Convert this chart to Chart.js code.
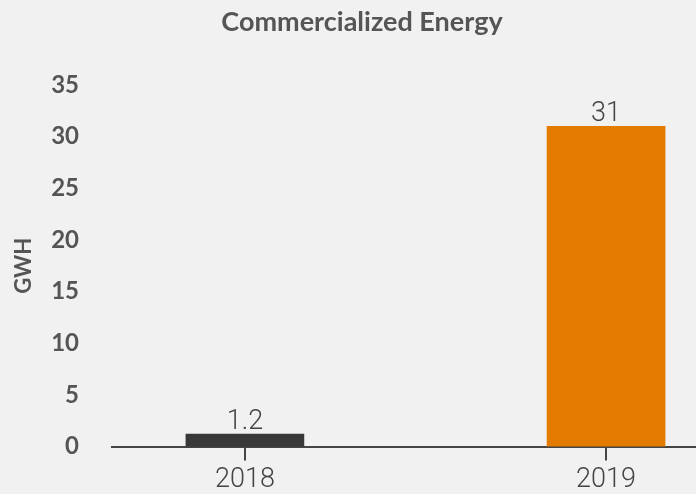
<!DOCTYPE html>
<html>
<head>
<meta charset="utf-8">
<script src="https://cdn.jsdelivr.net/npm/chart.js@4/dist/chart.umd.min.js"></script>
<style>
  html, body { margin: 0; padding: 0; background: #f1f1f1; }
  #wrap { position: relative; width: 696px; height: 494px; }
</style>
</head>
<body>
<div id="wrap"><canvas id="myChart"></canvas></div>
<script>
const years = [2018, 2019];
const energyGwh = [1.2, 31];
const barColors = ['#383838', '#e27b00'];
const yTicks = [0, 5, 10, 15, 20, 25, 30, 35];

const titleText = 'Commercialized Energy';
const axisColor = '#444';

// heading, centred a little right of the canvas middle
const chartHeading = {
  id: 'chartHeading',
  afterDraw(chart) {
    const { ctx } = chart;
    ctx.save();
    ctx.font = 'bold 27px Lato, Roboto, sans-serif';
    ctx.fillStyle = '#555';
    ctx.textAlign = 'center';
    ctx.textBaseline = 'alphabetic';
    ctx.fillText(titleText, 362, 31);
    ctx.restore();
  }
};

// value above each bar
const valueLabels = {
  id: 'valueLabels',
  afterDatasetsDraw(chart) {
    const { ctx, data } = chart;
    chart.getDatasetMeta(0).data.forEach((bar, index) => {
      const value = data.datasets[0].data[index].y;
      ctx.save();
      ctx.font = '300 27px Roboto, Lato, sans-serif';
      ctx.fillStyle = '#444';
      ctx.textAlign = 'center';
      ctx.textBaseline = 'alphabetic';
      ctx.fillText(String(value), bar.x, bar.y - 5);
      ctx.restore();
    });
  }
};

const ctx = document.getElementById('myChart');

new Chart(ctx, {
  type: 'bar',
  data: {
    datasets: [{
      label: 'GWH',
      data: years.map((yr, i) => ({ x: yr, y: energyGwh[i] })),
      backgroundColor: barColors,
      borderWidth: 0,
      barThickness: 118
    }]
  },
  options: {
    responsive: true,
    maintainAspectRatio: false,
    animation: false,
    layout: { padding: { top: 85, right: 0, left: 0, bottom: 0 } },
    plugins: {
      legend: { display: false },
      title: { display: false },
      tooltip: { enabled: false }
    },
    scales: {
      x: {
        type: 'linear',
        offset: false,
        min: 2017.632,
        max: 2019.249,
        z: 1,
        afterBuildTicks(scale) {
          scale.ticks = years.map(v => ({ value: v }));
        },
        afterFit(scale) { scale.height = 45; },
        ticks: {
          callback: v => String(v),
          autoSkip: false,
          maxRotation: 0,
          padding: 3,
          color: '#444',
          font: { family: 'Roboto, Lato, sans-serif', weight: 300, size: 27 }
        },
        grid: {
          display: true,
          offset: false,
          drawOnChartArea: false,
          drawTicks: true,
          tickLength: 14,
          color: axisColor,
          lineWidth: 2
        },
        border: { display: true, color: axisColor, width: 2 }
      },
      y: {
        min: 0,
        max: 35,
        afterBuildTicks(scale) {
          scale.ticks = yTicks.map(v => ({ value: v }));
        },
        afterFit(scale) { scale.width = 112; },
        ticks: {
          padding: 33,
          color: '#555',
          font: { family: 'Lato, Roboto, sans-serif', weight: 'bold', size: 24 }
        },
        grid: { display: false, drawTicks: false },
        border: { display: false },
        title: {
          display: true,
          text: 'GWH',
          color: '#555',
          padding: { top: 11, bottom: 0 },
          font: { family: 'Lato, Roboto, sans-serif', weight: 'bold', size: 22 }
        }
      }
    }
  },
  plugins: [chartHeading, valueLabels]
});
</script>
</body>
</html>
